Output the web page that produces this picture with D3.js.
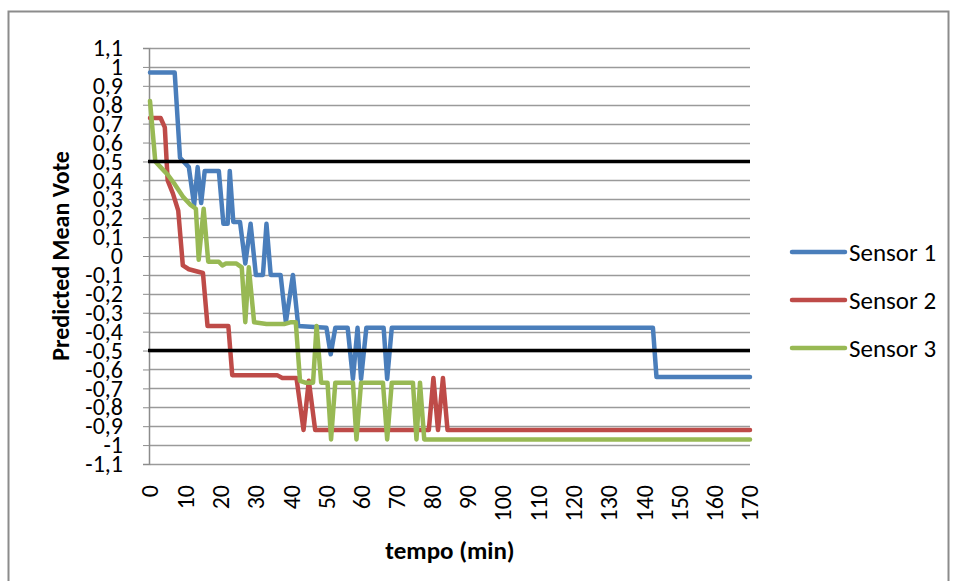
<!DOCTYPE html>
<html>
<head>
<meta charset="utf-8">
<script src="https://cdn.jsdelivr.net/npm/d3@7"></script>
<style>
  body { margin: 0; background: #fff; }
  text { font-family: Carlito, "Liberation Sans", Arial, sans-serif; fill: #000; }
</style>
</head>
<body>
<div id="chart"></div>
<script>
// data (time in minutes, PMV)
const s1Time  = [0, 7, 8.5, 10, 11, 12.5, 13.5, 14.5, 15.5, 19.5, 20.8, 22, 22.6, 23.6, 25.5, 27, 28.5, 30, 32, 33, 34.2, 37, 38.5, 40.5, 42, 50, 51.2, 52.5, 56, 57.5, 58.8, 59.8, 61.3, 66.2, 67.2, 68.5, 142.5, 143.5, 170];
const s1Value = [0.97, 0.97, 0.52, 0.49, 0.47, 0.27, 0.47, 0.28, 0.45, 0.45, 0.17, 0.17, 0.45, 0.18, 0.18, -0.04, 0.17, -0.1, -0.1, 0.17, -0.1, -0.1, -0.35, -0.1, -0.37, -0.38, -0.52, -0.38, -0.38, -0.65, -0.38, -0.65, -0.38, -0.38, -0.65, -0.38, -0.38, -0.64, -0.64];

const s2Time  = [0, 3, 4.2, 5, 6.5, 8, 9.3, 11, 15, 16.3, 22.2, 23.3, 36, 37.5, 41.5, 43.5, 45, 46.8, 79, 80.3, 81.6, 83, 84.3, 170];
const s2Value = [0.73, 0.73, 0.68, 0.4, 0.33, 0.24, -0.05, -0.07, -0.09, -0.37, -0.37, -0.63, -0.63, -0.645, -0.645, -0.92, -0.66, -0.92, -0.92, -0.645, -0.92, -0.645, -0.92, -0.92];

const s3Time  = [0, 1.5, 3, 5, 7, 9.5, 11.5, 13, 13.8, 15.2, 16.5, 19.5, 20.5, 21.5, 24.5, 26, 27, 28, 29.5, 33, 38, 40, 41.3, 42.5, 44, 46.2, 47.2, 48.5, 50.3, 51.3, 52.5, 57.5, 58.5, 59.8, 66, 67.2, 68.5, 74.5, 75.5, 76.5, 77.7, 170];
const s3Value = [0.82, 0.5, 0.47, 0.43, 0.38, 0.31, 0.27, 0.25, -0.02, 0.25, -0.03, -0.03, -0.05, -0.04, -0.04, -0.06, -0.35, -0.06, -0.35, -0.36, -0.36, -0.35, -0.35, -0.66, -0.67, -0.67, -0.37, -0.67, -0.67, -0.97, -0.67, -0.67, -0.97, -0.67, -0.67, -0.97, -0.67, -0.67, -0.97, -0.67, -0.97, -0.97];

const seriesNames = ["Sensor 1", "Sensor 2", "Sensor 3"];
const seriesColors = ["#4A7EBB", "#BE4B48", "#98B954"];
const limitValues = [0.5, -0.5];

const xTicks = [0, 10, 20, 30, 40, 50, 60, 70, 80, 90, 100, 110, 120, 130, 140, 150, 160, 170];
const yTicks = [-1.1, -1, -0.9, -0.8, -0.7, -0.6, -0.5, -0.4, -0.3, -0.2, -0.1, 0, 0.1, 0.2, 0.3, 0.4, 0.5, 0.6, 0.7, 0.8, 0.9, 1, 1.1];

const width = 957, height = 581;
const margin = { top: 48, right: 207, bottom: 117, left: 150 };

const svg = d3.select("#chart")
  .append("svg")
  .attr("width", width)
  .attr("height", height);

// outer chart frame
svg.append("rect")
  .attr("x", 8.5).attr("y", 11.5)
  .attr("width", 940).attr("height", 590)
  .attr("fill", "none")
  .attr("stroke", "#8c8c8c")
  .attr("stroke-width", 2);

const x = d3.scaleLinear()
  .domain([0, 170])
  .range([margin.left, width - margin.right]);

const y = d3.scaleLinear()
  .domain([-1.1, 1.1])
  .range([height - margin.bottom, margin.top]);

// gridlines
svg.append("g")
  .selectAll("line")
  .data(yTicks)
  .join("line")
  .attr("x1", x(0)).attr("x2", x(170))
  .attr("y1", d => Math.round(y(d)) + 0.5)
  .attr("y2", d => Math.round(y(d)) + 0.5)
  .attr("stroke", "#9a9a9a")
  .attr("stroke-width", 1.3);

// y axis
const yAxis = svg.append("g")
  .attr("transform", `translate(${x(0) - 1},0)`)
  .call(d3.axisLeft(y)
    .tickValues(yTicks)
    .tickSize(6)
    .tickPadding(20)
    .tickFormat(d => String(d).replace(".", ",")));
yAxis.select(".domain").attr("stroke", "#8c8c8c").attr("stroke-width", 1.5);
yAxis.selectAll(".tick line").attr("stroke", "#8c8c8c");
yAxis.selectAll(".tick text")
  .style("font-size", "24px")
  .attr("fill", "#000");

// x tick labels (rotated)
svg.append("g")
  .selectAll("text")
  .data(xTicks)
  .join("text")
  .attr("transform", d => `translate(${x(d)},${height - margin.bottom + 21}) rotate(-90)`)
  .attr("text-anchor", "end")
  .attr("dy", "0.35em")
  .style("font-size", "24px")
  .text(d => d);

// axis titles
svg.append("text")
  .attr("transform", `translate(61,${y(0)}) rotate(-90)`)
  .attr("text-anchor", "middle")
  .attr("dy", "0.35em")
  .style("font-size", "24px")
  .style("font-weight", "bold")
  .text("Predicted Mean Vote");

svg.append("text")
  .attr("x", 450).attr("y", 550)
  .attr("text-anchor", "middle")
  .attr("dy", "0.35em")
  .style("font-size", "25px")
  .style("font-weight", "bold")
  .text("tempo (min)");

// series
const series = [
  { name: seriesNames[0], color: seriesColors[0], t: s1Time, v: s1Value },
  { name: seriesNames[1], color: seriesColors[1], t: s2Time, v: s2Value },
  { name: seriesNames[2], color: seriesColors[2], t: s3Time, v: s3Value }
];

const line = d3.line()
  .x(d => x(d[0]))
  .y(d => y(d[1]));

svg.append("g")
  .selectAll("path")
  .data(series)
  .join("path")
  .attr("d", s => line(s.t.map((t, i) => [t, s.v[i]])))
  .attr("fill", "none")
  .attr("stroke", s => s.color)
  .attr("stroke-width", 4.5)
  .attr("stroke-linejoin", "round")
  .attr("stroke-linecap", "round");

// comfort limits
svg.append("g")
  .selectAll("line")
  .data(limitValues)
  .join("line")
  .attr("x1", x(0) - 2).attr("x2", x(170))
  .attr("y1", d => y(d)).attr("y2", d => y(d))
  .attr("stroke", "#000")
  .attr("stroke-width", 3.5);

// legend
const legend = svg.append("g")
  .selectAll("g")
  .data(series)
  .join("g")
  .attr("transform", (d, i) => `translate(792,${252 + i * 48})`);

legend.append("line")
  .attr("x1", 0).attr("x2", 53)
  .attr("stroke", d => d.color)
  .attr("stroke-width", 4.5)
  .attr("stroke-linecap", "round");

legend.append("text")
  .attr("x", 57)
  .attr("dy", "0.35em")
  .style("font-size", "25px")
  .text(d => d.name);
</script>
</body>
</html>
